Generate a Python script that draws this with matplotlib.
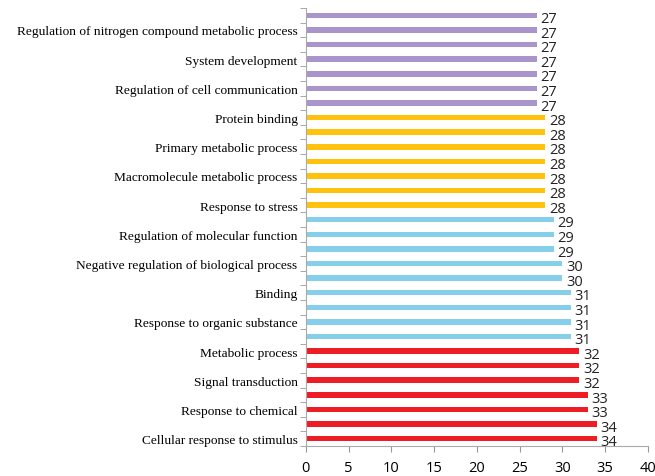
import matplotlib
matplotlib.use("Agg")
import matplotlib.pyplot as plt
import numpy as np

# categories from top to bottom (only every other one has a visible label)
categories = [
    "", "Regulation of nitrogen compound metabolic process",
    "", "System development",
    "", "Regulation of cell communication",
    "", "Protein binding",
    "", "Primary metabolic process",
    "", "Macromolecule metabolic process",
    "", "Response to stress",
    "", "Regulation of molecular function",
    "", "Negative regulation of biological process",
    "", "Binding",
    "", "Response to organic substance",
    "", "Metabolic process",
    "", "Signal transduction",
    "", "Response to chemical",
    "", "Cellular response to stimulus",
]
values = [27, 27, 27, 27, 27, 27, 27,
          28, 28, 28, 28, 28, 28, 28,
          29, 29, 29, 30, 30, 31, 31, 31, 31,
          32, 32, 32, 33, 33, 34, 34]
group_sizes = [7, 7, 9, 7]
group_colors = ["#a995cc", "#ffc20e", "#86cfea", "#ee1d25"]

colors = []
for n, c in zip(group_sizes, group_colors):
    colors += [c] * n

n = len(values)
# first item at the top
ypos = np.arange(n)[::-1]

fig = plt.figure(figsize=(6.55, 4.77), dpi=100)
ax = fig.add_axes([0.467, 0.063, 0.522, 0.918])

ax.barh(ypos, values, height=0.38, color=colors)

for y, v in zip(ypos, values):
    ax.text(v + 0.45, y - 0.22, str(v), va="center", ha="left",
            fontsize=10.5, color="#222222", family="Open Sans")

ax.set_xlim(0, 40)
ax.set_ylim(-0.5, n - 0.5)
ax.set_xticks(np.arange(0, 41, 5))
ax.tick_params(axis="x", labelsize=10.5, length=4, color="#999999", pad=6)
for lbl in ax.get_xticklabels():
    lbl.set_family("Open Sans")

ax.set_yticks(ypos)
ax.set_yticklabels(categories, family="Liberation Serif", fontsize=9.6)
ax.tick_params(axis="y", length=0, pad=6)
ax.set_yticks(np.arange(-0.5, n, 1), minor=True)
ax.tick_params(axis="y", which="minor", length=4, color="#999999")

for s in ["top", "right"]:
    ax.spines[s].set_visible(False)
for s in ["left", "bottom"]:
    ax.spines[s].set_color("#aaaaaa")

fig.savefig("out.png", dpi=100)
